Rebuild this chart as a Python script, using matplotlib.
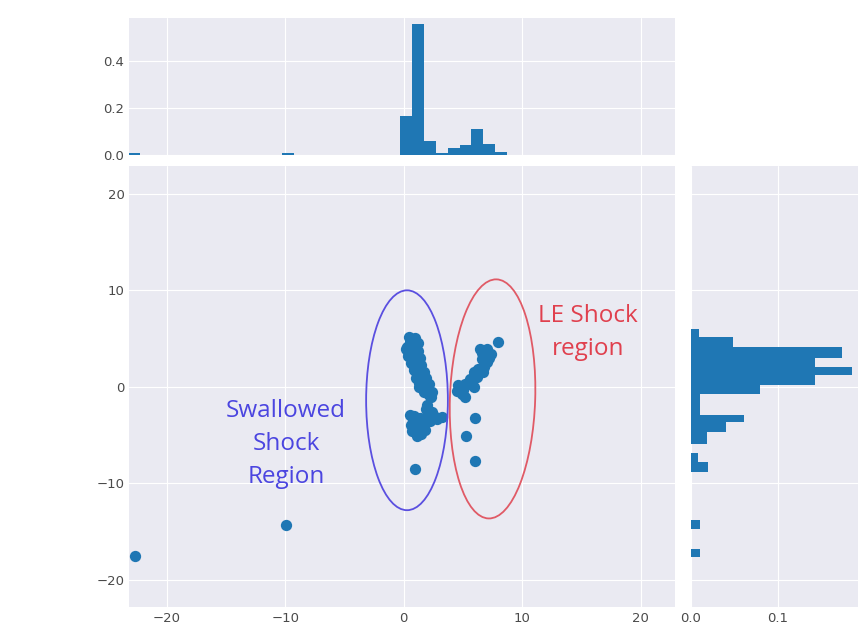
import matplotlib
matplotlib.use('Agg')
import matplotlib.pyplot as plt
from matplotlib.patches import Ellipse
import numpy as np
import seaborn as sns

# ---------------- data ----------------
scatter_x = [
    # upper swallowed band
    0.45, 0.70, 0.90, 0.50, 0.80, 0.30, 0.60, 1.00, 0.40, 0.75, 1.05, 0.70,
    0.95, 1.20, 0.90, 1.15, 1.35, 1.10, 1.40, 1.60, 1.30, 1.60, 1.90, 1.70,
    2.10, 2.30, 0.95, 1.20, 1.25, 1.40, 1.50, 1.70, 1.90, 2.10, 2.40, 0.20,
    0.35, 0.60, 0.85, 1.05, 1.30,
    # lower swallowed group
    0.50, 0.80, 0.60, 1.00, 1.30, 1.10, 1.60, 1.90, 2.00, 2.20, 1.80, 2.60,
    3.20, 1.40, 2.00, 0.90, 1.50, 0.70, 2.40, 2.80, 0.95,
    # LE shock group
    4.60, 4.90, 5.20, 5.20, 5.60, 5.90, 5.90, 6.30, 6.60, 7.00, 6.40, 7.00,
    7.40, 8.00, 4.50, 6.70, 4.90, 5.00, 5.50, 6.20, 6.80, 6.60, 7.20,
    6.05, 5.25, 6.00,
    # outliers
    -22.65, -9.90,
]
scatter_y = [
    5.20, 5.00, 4.80, 4.60, 4.40, 4.10, 4.00, 3.90, 3.60, 3.50, 3.30, 3.00,
    2.70, 2.50, 2.20, 1.90, 1.60, 1.30, 1.00, 0.70, 0.40, 0.10, -0.20, -0.50,
    -0.80, -1.10, 5.10, 4.50, 3.70, 3.00, 2.30, 1.50, 0.90, 0.30, -0.50, 3.90,
    3.20, 2.50, 1.70, 0.90, 0.00,
    -2.90, -3.40, -4.00, -4.30, -4.70, -5.10, -3.90, -2.30, -3.00, -3.50, -4.50, -3.00,
    -3.10, -3.20, -1.90, -3.00, -4.90, -4.60, -2.60, -3.30, -8.50,
    0.20, -0.70, -1.10, 0.30, 0.80, 0.00, 1.50, 1.90, 2.90, 2.60, 3.90, 3.90,
    3.40, 4.70, -0.40, 1.50, 0.00, -0.30, 0.30, 1.00, 2.10, 3.50, 3.00,
    -3.20, -5.10, -7.70,
    -17.50, -14.30,
]

# top marginal histogram (x), density
top_edges = np.arange(-23.28, 8.73, 1.0)
top_density = [0.01] + [0.0] * 12 + [0.01] + [0.0] * 9 + [
    0.165, 0.56, 0.06, 0.01, 0.029, 0.043, 0.11, 0.046, 0.014]

# right marginal histogram (y), density; edges from bottom to top
right_edges = [-17.65, -16.80, -14.70, -13.85, -8.80, -7.77, -6.90, -5.88,
               -4.67, -3.63, -2.95, -1.80, -0.70, 0.17, 1.20, 2.08, 2.94,
               4.15, 5.19, 6.02]
right_density = [0.0105, 0.0, 0.0105, 0.0, 0.02, 0.008, 0.0, 0.018,
                 0.04, 0.061, 0.0105, 0.0105, 0.08, 0.143, 0.186, 0.143,
                 0.174, 0.049, 0.009]

xticks = [-20, -10, 0, 10, 20]
yticks = [-20, -10, 0, 10, 20]
top_yticks = [0.0, 0.2, 0.4]
right_xticks = [0.0, 0.1]

# ---------------- style ----------------
sns.set_style('darkgrid')
plt.rcParams['font.family'] = ['DejaVu Sans']
blue = '#1f77b4'
tick_color = '#4a4a4a'

fig = plt.figure(figsize=(8.58, 6.40), dpi=100)
ax = fig.add_axes([0.1507, 0.052, 0.636, 0.6886])
ax_top = fig.add_axes([0.1507, 0.7578, 0.636, 0.2136])
ax_right = fig.add_axes([0.8054, 0.052, 0.1946, 0.6886])

# main scatter
ax.scatter(scatter_x, scatter_y, s=66, color=blue, linewidths=0, zorder=3)
ax.set_xlim(-23.16, 22.9)
ax.set_ylim(-22.8, 22.9)
ax.set_xticks(xticks)
ax.set_yticks(yticks)

# annotations
ax.add_patch(Ellipse((0.28, -1.39), 6.9, 22.8, fill=False,
                     edgecolor='#5a4fe0', linewidth=1.3, zorder=4))
ax.add_patch(Ellipse((7.5, -1.25), 7.2, 24.8, angle=-1.5, fill=False,
                     edgecolor='#e05a66', linewidth=1.3, zorder=4))
ax.text(-9.93, -5.9, 'Swallowed\nShock\nRegion', color='#4b45e0',
        fontsize=17.5, family=['Open Sans', 'DejaVu Sans'], ha='center',
        va='center', linespacing=1.5)
ax.text(15.55, 5.6, 'LE Shock\nregion', color='#e0404e',
        fontsize=17.5, family=['Open Sans', 'DejaVu Sans'], ha='center',
        va='center', linespacing=1.5)

# top marginal
ax_top.stairs(top_density, top_edges, fill=True, color=blue)
ax_top.set_xlim(ax.get_xlim())
ax_top.set_ylim(0, 0.583)
ax_top.set_xticks(xticks)
ax_top.set_xticklabels([])
ax_top.set_yticks(top_yticks)

# right marginal
ax_right.stairs(right_density, right_edges, fill=True, color=blue,
                orientation='horizontal')
ax_right.set_ylim(ax.get_ylim())
ax_right.set_xlim(0, 0.193)
ax_right.set_yticks(yticks)
ax_right.set_yticklabels([])
ax_right.set_xticks(right_xticks)

for a in (ax, ax_top, ax_right):
    a.tick_params(labelsize=9.5, colors=tick_color, length=0)
    for s in a.spines.values():
        s.set_visible(False)

fig.savefig('out.png', dpi=100)
